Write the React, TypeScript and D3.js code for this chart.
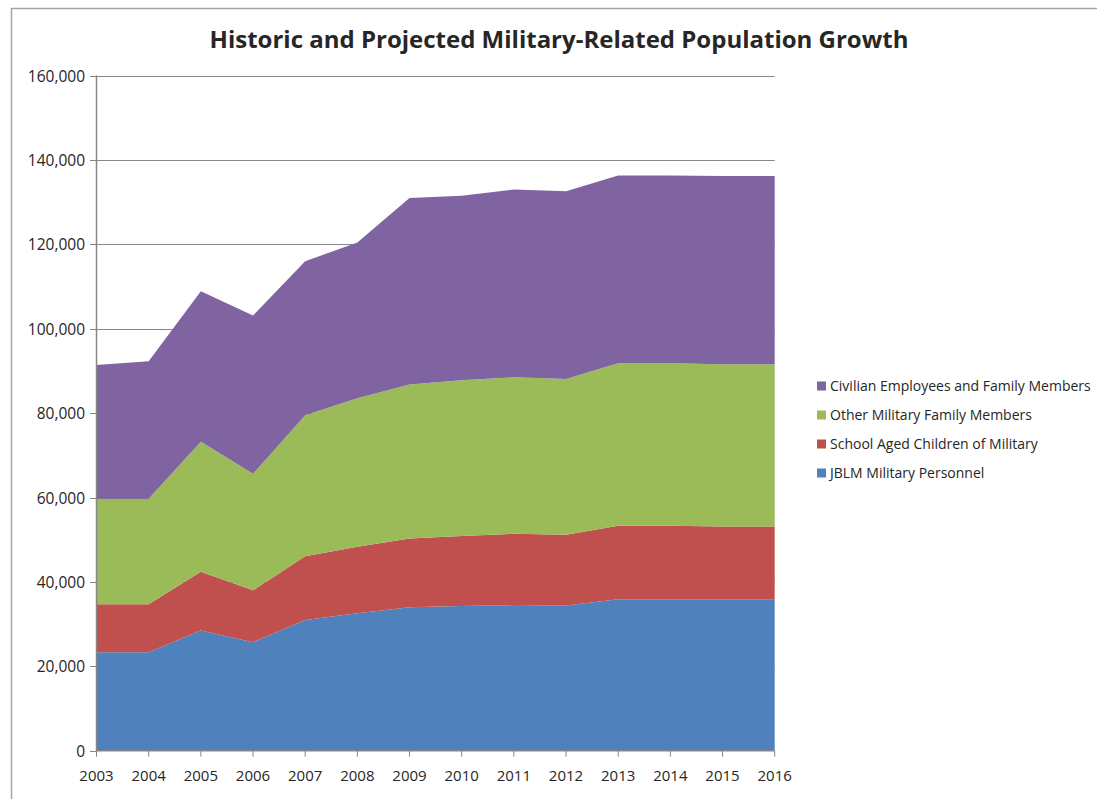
import * as d3 from 'd3';

const years = [2003, 2004, 2005, 2006, 2007, 2008, 2009, 2010, 2011, 2012, 2013, 2014, 2015, 2016];

// per-series (not cumulative)
const jblmPersonnel = [23300, 23300, 28500, 25700, 31000, 32600, 34000, 34300, 34500, 34400, 35900, 35900, 35900, 35900];
const schoolChildren = [11400, 11400, 13900, 12300, 15100, 15700, 16300, 16600, 16900, 16800, 17400, 17400, 17200, 17200];
const otherFamily = [25000, 25000, 30800, 27600, 33400, 35200, 36500, 36900, 37100, 36900, 38500, 38500, 38500, 38500];
const civilian = [31700, 32600, 35700, 37500, 36500, 36900, 44200, 43700, 44500, 44500, 44500, 44500, 44600, 44600];

const seriesNames = [
  'JBLM Military Personnel',
  'School Aged Children of Military',
  'Other Military Family Members',
  'Civilian Employees and Family Members',
];
const seriesColors = ['#4F81BD', '#C0504D', '#9BBB59', '#8064A2'];
const yTicks = [0, 20000, 40000, 60000, 80000, 100000, 120000, 140000, 160000];

const W = 1097;
const H = 799;
const font = '"Open Sans", "DejaVu Sans", sans-serif';

export default function App() {
  const x = d3.scaleLinear().domain([2003, 2016]).range([96.5, 774.7]);
  const y = d3.scaleLinear().domain([0, 160000]).range([750.7, 75.5]);

  const rows = years.map((yr, i) => ({
    year: yr,
    s0: jblmPersonnel[i],
    s1: schoolChildren[i],
    s2: otherFamily[i],
    s3: civilian[i],
  }));
  const stack = d3.stack<(typeof rows)[number]>().keys(['s0', 's1', 's2', 's3']);
  const layers = stack(rows);

  const area = d3
    .area<d3.SeriesPoint<(typeof rows)[number]>>()
    .x(d => x(d.data.year))
    .y0(d => y(d[0]))
    .y1(d => y(d[1]));

  const fmt = d3.format(',');
  const axisColor = '#868686';
  const textColor = '#262626';

  // legend drawn top-down: civilian first
  const legendOrder = [3, 2, 1, 0];

  return (
    <svg
      width={W}
      height={H}
      style={{ position: 'absolute', left: 0, top: 0, background: '#fff' }}
      fontFamily={font}
    >
      {/* chart frame */}
      <rect x={11.5} y={8.5} width={W} height={H} fill="none" stroke="#a6a6a6" strokeWidth={1.5} />

      <text
        x={559}
        y={48}
        textAnchor="middle"
        fontSize={24}
        fontWeight="bold"
        fill={textColor}
      >
        Historic and Projected Military-Related Population Growth
      </text>

      {/* gridlines */}
      {yTicks.slice(1).map(t => (
        <line
          key={t}
          x1={96.5}
          x2={774.7}
          y1={Math.round(y(t)) + 0.5}
          y2={Math.round(y(t)) + 0.5}
          stroke={axisColor}
          strokeWidth={1}
        />
      ))}

      {/* stacked areas */}
      {layers.map((layer, i) => (
        <path key={layer.key} d={area(layer) ?? ''} fill={seriesColors[i]} />
      ))}

      {/* y axis */}
      <line x1={96.5} x2={96.5} y1={y(160000)} y2={y(0)} stroke={axisColor} strokeWidth={1.5} />
      {yTicks.map(t => (
        <g key={t} transform={`translate(0,${Math.round(y(t)) + 0.5})`}>
          <line x1={90} x2={96.5} stroke={axisColor} strokeWidth={1} />
          <text x={85} dy="0.35em" textAnchor="end" fontSize={15.5} fill={textColor}>
            {fmt(t)}
          </text>
        </g>
      ))}

      {/* x axis */}
      <line x1={96.5} x2={774.7} y1={y(0)} y2={y(0)} stroke={axisColor} strokeWidth={1.5} />
      {years.map(yr => (
        <g key={yr} transform={`translate(${x(yr)},${y(0)})`}>
          <line y1={0} y2={6} stroke={axisColor} strokeWidth={1} />
          <text y={30} textAnchor="middle" fontSize={15} fill={textColor}>
            {yr}
          </text>
        </g>
      ))}

      {/* legend */}
      {legendOrder.map((si, row) => (
        <g key={si} transform={`translate(817,${386 + row * 29})`}>
          <rect x={0} y={-4.5} width={9} height={9} fill={seriesColors[si]} />
          <text x={13} dy="0.35em" fontSize={14} fill={textColor}>
            {seriesNames[si]}
          </text>
        </g>
      ))}
    </svg>
  );
}
